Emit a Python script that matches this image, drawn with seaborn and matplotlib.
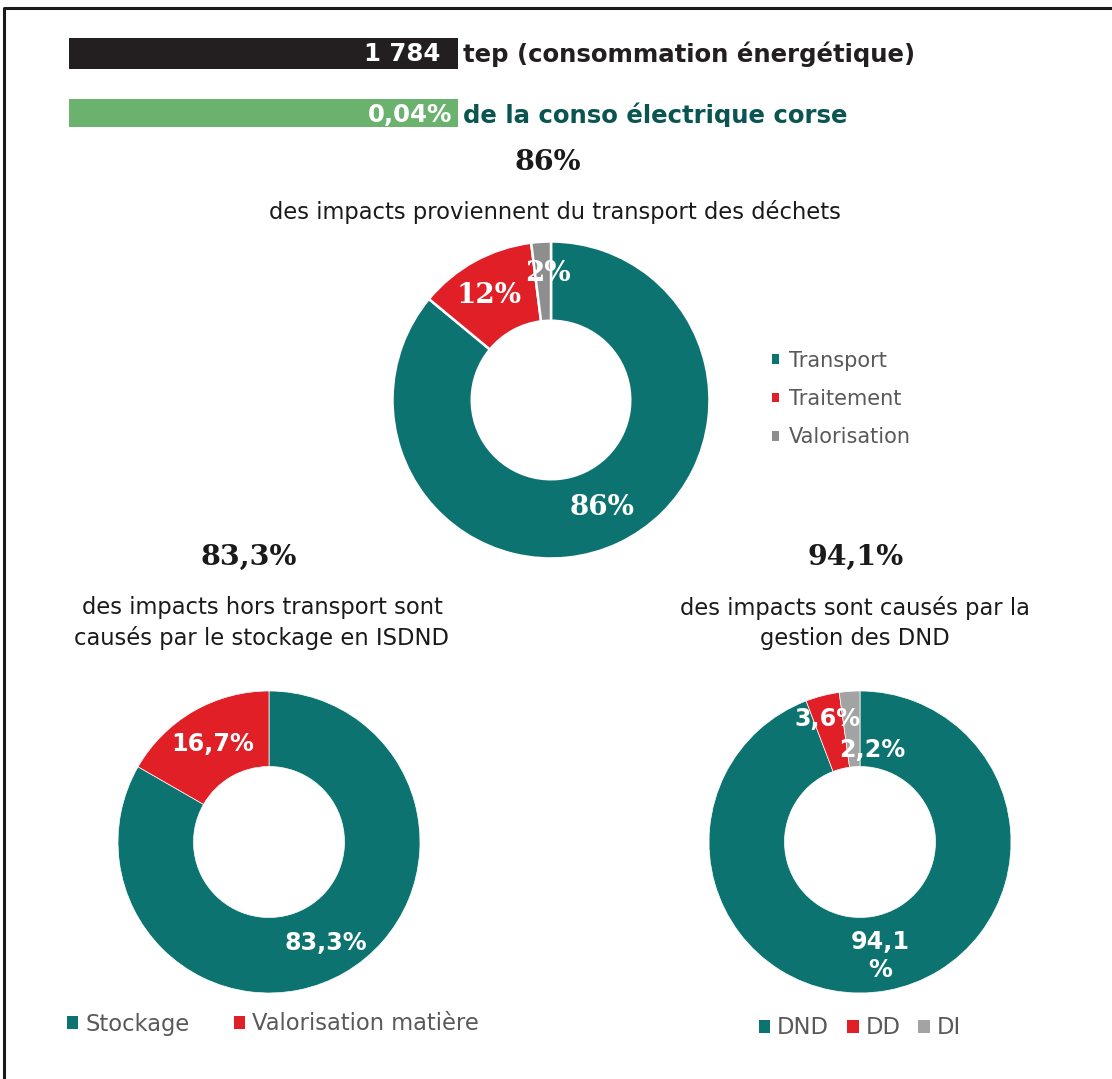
import matplotlib
matplotlib.use("Agg")
import matplotlib.pyplot as plt
import seaborn as sns
from matplotlib.patches import Patch, Rectangle
from matplotlib.transforms import Bbox, TransformedBbox

# ---------------- data ----------------
top_labels = ["Transport", "Traitement", "Valorisation"]
top_values = [86, 12, 2]
top_texts = ["86%", "12%", "2%"]

bl_labels = ["Stockage", "Valorisation matière"]
bl_values = [83.3, 16.7]
bl_texts = ["83,3%", "16,7%"]

br_labels = ["DND", "DD", "DI"]
br_values = [94.1, 3.6, 2.2]
br_texts = ["94,1\n%", "3,6%", "2,2%"]

energy_value = "1 784"
energy_text = "tep (consommation énergétique)"
elec_value = "0,04%"
elec_text = "de la conso électrique corse"

# ---------------- style ----------------
sns.set_theme(style="white")
plt.rcParams["font.family"] = ["DejaVu Sans"]

TEAL = "#0C7370"
RED = "#E11F27"
GREY = "#8E8E8E"
GREY2 = "#A3A3A3"
palette_top = [TEAL, RED, GREY]
palette_bl = [TEAL, RED]
palette_br = [TEAL, RED, GREY2]

W, H = 1112, 1079
fig = plt.figure(figsize=(W / 100, H / 100), dpi=100)
fig.patch.set_facecolor("white")

# overlay axes in pixel coordinates
ov = fig.add_axes([0, 0, 1, 1])
ov.set_xlim(0, W)
ov.set_ylim(H, 0)
ov.axis("off")

# frame
ov.plot([4, 4, W + 5], [H + 5, 8, 8], color="#1a1a1a", lw=2.2, solid_capstyle="butt")

# header bars
HFS = 17.6
ov.add_patch(Rectangle((69, 38), 389, 31, color="#231F20", lw=0))
ov.add_patch(Rectangle((69, 99), 389, 28, color="#6BB26F", lw=0))
ov.text(440, 54, energy_value, color="white", fontsize=HFS, fontweight="bold",
        ha="right", va="center")
ov.text(463, 54, energy_text, color="#231F20", fontsize=HFS, fontweight="bold",
        ha="left", va="center")
clip = TransformedBbox(Bbox([[0, 0], [W, 127]]), ov.transData)
t1 = ov.text(452, 115, elec_value, color="white", fontsize=HFS, fontweight="bold",
             ha="right", va="center")
t2 = ov.text(463, 115, elec_text, color="#0A5552", fontsize=HFS, fontweight="bold",
             ha="left", va="center")
for t in (t1, t2):
    t.set_clip_box(clip)
    t.set_clip_on(True)

# headings
BIG = 20.5
SUB = 16.3
ov.text(548, 163, "86%", fontsize=BIG, fontweight="bold", family="DejaVu Serif",
        ha="center", va="center", color="#1a1a1a")
ov.text(555, 212, "des impacts proviennent du transport des déchets", fontsize=SUB,
        ha="center", va="center", color="#1a1a1a")
ov.text(249, 557, "83,3%", fontsize=BIG, fontweight="bold", family="DejaVu Serif",
        ha="center", va="center", color="#1a1a1a")
ov.text(262, 623, "des impacts hors transport sont\ncausés par le stockage en ISDND",
        fontsize=SUB, ha="center", va="center", color="#1a1a1a", linespacing=1.35)
ov.text(856, 557, "94,1%", fontsize=BIG, fontweight="bold", family="DejaVu Serif",
        ha="center", va="center", color="#1a1a1a")
ov.text(855, 623, "des impacts sont causés par la\ngestion des DND",
        fontsize=SUB, ha="center", va="center", color="#1a1a1a", linespacing=1.35)


def donut(cx, cy, R, values, colors, texts, font, fsize, edge_lw, nudges, lsp=1.0):
    ax = fig.add_axes([(cx - R) / W, 1 - (cy + R) / H, 2 * R / W, 2 * R / H])
    wedges, _, autotexts = ax.pie(
        values, colors=colors, startangle=90, counterclock=False, radius=1,
        wedgeprops=dict(width=0.5, edgecolor="white", linewidth=edge_lw),
        autopct="%1.1f", pctdistance=0.75)
    for at, txt, (dx, dy) in zip(autotexts, texts, nudges):
        x, y = at.get_position()
        at.set_position((x + dx, y + dy))
        at.set_text(txt)
        at.set_color("white")
        at.set_fontweight("bold")
        at.set_fontsize(fsize)
        at.set_family(font)
        at.set_linespacing(lsp)
    ax.set_xlim(-1.0, 1.0)
    ax.set_ylim(-1.0, 1.0)
    ax.axis("off")
    return ax


donut(551, 400, 158.5, top_values, palette_top, top_texts, "DejaVu Serif", 20, 1.8,
      [(0, 0), (-0.03, 0), (0.03, 0.05)])
donut(269, 842, 151, bl_values, palette_bl, bl_texts, "DejaVu Sans", 17.2, 0.5,
      [(0, -0.02), (0.0, 0)])
donut(860, 842, 151, br_values, palette_br, br_texts, "DejaVu Sans", 17.2, 0.5,
      [(0.0, -0.02), (-0.03, 0.09), (0.13, -0.14)], lsp=1.2)

# legends
leg_bl = ov.legend([Patch(facecolor=c, edgecolor="none") for c in palette_bl], bl_labels,
                   loc="center left", bbox_to_anchor=(67, 1024), bbox_transform=ov.transData,
                   frameon=False, fontsize=16.3, ncol=2, handlelength=0.5, handleheight=0.55,
                   handletextpad=0.3, columnspacing=1.95, borderpad=0, borderaxespad=0,
                   labelcolor="#595959")
ov.add_artist(leg_bl)
leg_br = ov.legend([Patch(facecolor=c, edgecolor="none") for c in palette_br], br_labels,
                   loc="center left", bbox_to_anchor=(759, 1028), bbox_transform=ov.transData,
                   frameon=False, fontsize=16.3, ncol=3, handlelength=0.5, handleheight=0.55,
                   handletextpad=0.3, columnspacing=0.8, borderpad=0, borderaxespad=0,
                   labelcolor="#595959")
ov.add_artist(leg_br)
ov.legend([Patch(facecolor=c, edgecolor="none") for c in palette_top], top_labels,
          loc="center left", bbox_to_anchor=(772, 399), bbox_transform=ov.transData,
          frameon=False, fontsize=15, handlelength=0.32, handleheight=0.32,
          handletextpad=0.5, labelspacing=0.88, borderpad=0, borderaxespad=0,
          labelcolor="#595959")

fig.savefig("out.png", dpi=100, facecolor="white")
